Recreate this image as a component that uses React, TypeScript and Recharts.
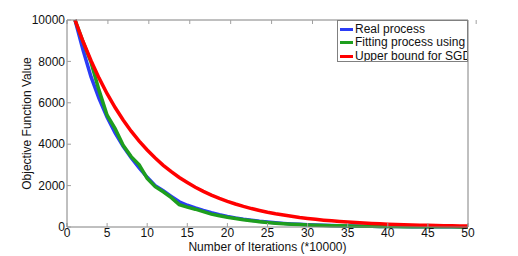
import React from 'react';
import {
  LineChart,
  Line,
  XAxis,
  YAxis,
} from 'recharts';

const iterations = [
  1, 2, 3, 4, 5, 6, 7, 8, 9, 10, 11, 12, 13, 14, 15, 16, 17, 18, 19, 20, 21, 22, 23, 24, 25,
  26, 27, 28, 29, 30, 31, 32, 33, 34, 35, 36, 37, 38, 39, 40, 41, 42, 43, 44, 45, 46, 47, 48, 49, 50,
];

const realProcess = [
  10000, 8550, 7250, 6200, 5300, 4550, 3900, 3350, 2850, 2400, 2000, 1750, 1480, 1220, 1050,
  920, 800, 690, 590, 510, 440, 380, 330, 280, 240, 205, 175, 150, 128, 110, 95, 82, 70, 60, 52,
  45, 39, 34, 29, 25, 22, 19, 16, 14, 12, 10, 9, 8, 7, 6,
];

const fittingProcess = [
  10000, 8950, 7950, 6600, 5400, 4750, 3950, 3400, 3000, 2350, 1950, 1700, 1420, 1080, 960,
  860, 740, 620, 540, 470, 410, 350, 300, 255, 215, 185, 160, 135, 115, 100, 85, 74, 64, 55, 48,
  41, 36, 31, 27, 23, 20, 17, 15, 13, 11, 9, 8, 7, 6, 5,
];

const upperBound = [
  10000, 8960, 8030, 7190, 6440, 5770, 5170, 4630, 4150, 3720, 3330, 2980, 2670, 2390, 2150,
  1920, 1720, 1540, 1380, 1240, 1110, 995, 890, 800, 715, 640, 575, 515, 460, 415, 370, 330, 298,
  265, 238, 213, 191, 171, 153, 137, 123, 110, 99, 88, 79, 71, 63, 57, 51, 46,
];

const xTicks = [0, 5, 10, 15, 20, 25, 30, 35, 40, 45, 50];
const yTicks = [0, 2000, 4000, 6000, 8000, 10000];

const seriesKeys = ['real', 'fit', 'bound'];
const seriesNames = ['Real process', 'Fitting process using r', 'Upper bound for SGD'];
const seriesColors = ['#2b3cf6', '#1e9e1e', '#ff0000'];

const data = iterations.map((it, i) => ({
  it,
  real: realProcess[i],
  fit: fittingProcess[i],
  bound: upperBound[i],
}));

if (typeof document !== 'undefined') {
  document.body.style.margin = '0';
}

const FONT = '"Liberation Sans", Arial, Helvetica, sans-serif';
const AXIS = '#808080';
const TICK = '#a0a0a0';

// matlab-style legend box over the top right corner; the long name is cut by the box like in the source
function LegendBox() {
  return (
    <div
      style={{
        position: 'absolute',
        left: 337,
        top: 20,
        width: 131,
        height: 42,
        border: `1px solid ${AXIS}`,
        background: '#fff',
        overflow: 'hidden',
        whiteSpace: 'nowrap',
        fontFamily: FONT,
        fontSize: 12,
        lineHeight: '13.3px',
        color: '#111',
        padding: '2px 0 0 2px',
        boxSizing: 'border-box',
      }}
    >
      {seriesNames.map((name, i) => (
        <div key={name} style={{ display: 'flex', alignItems: 'center', height: 13.3 }}>
          <span
            style={{
              display: 'inline-block',
              flex: 'none',
              width: 13,
              height: 3,
              background: seriesColors[i],
              marginRight: 2,
            }}
          />
          <span>{name}</span>
        </div>
      ))}
    </div>
  );
}

export default function App() {
  return (
    <div style={{ position: 'relative', width: 518, height: 256, background: '#fff' }}>
      <LineChart
        width={518}
        height={256}
        data={data}
        margin={{ top: 19, right: 49, bottom: 0, left: 0 }}
        style={{ fontFamily: FONT }}
      >
        <XAxis
          xAxisId="x"
          dataKey="it"
          type="number"
          domain={[0, 50]}
          ticks={xTicks}
          height={29}
          stroke={AXIS}
          tickSize={-4}
          tickMargin={5}
          tickLine={{ stroke: TICK }}
          tick={{ fill: '#111', fontSize: 12 }}
          label={{
            value: 'Number of Iterations (*10000)',
            position: 'insideBottom',
            offset: 5,
            fill: '#111',
            fontSize: 12,
          }}
        />
        <XAxis
          xAxisId="xt"
          orientation="top"
          type="number"
          domain={[0, 50]}
          ticks={xTicks}
          height={1}
          stroke={AXIS}
          tickSize={-4}
          tickLine={{ stroke: TICK }}
          tickFormatter={() => ''}
        />
        <YAxis
          yAxisId="y"
          type="number"
          domain={[0, 10000]}
          ticks={yTicks}
          width={67}
          stroke={AXIS}
          tickSize={-4}
          tickMargin={6}
          tickLine={{ stroke: TICK }}
          tick={{ fill: '#111', fontSize: 12 }}
          label={{
            content: ({ viewBox }: any) => {
              const cx = viewBox.x + 27;
              const cy = viewBox.y + viewBox.height / 2;
              return (
                <text
                  x={cx}
                  y={cy}
                  transform={`rotate(-90, ${cx}, ${cy})`}
                  textAnchor="middle"
                  dominantBaseline="central"
                  fill="#111"
                  fontSize={12}
                  fontFamily={FONT}
                >
                  Objective Function Value
                </text>
              );
            },
          }}
        />
        <YAxis
          yAxisId="yr"
          orientation="right"
          type="number"
          domain={[0, 10000]}
          ticks={yTicks}
          width={1}
          stroke={AXIS}
          tickSize={-4}
          tickLine={{ stroke: TICK }}
          tickFormatter={() => ''}
        />
        {seriesKeys.map((key, i) => (
          <Line
            key={key}
            xAxisId="x"
            yAxisId="y"
            dataKey={key}
            name={seriesNames[i]}
            stroke={seriesColors[i]}
            strokeWidth={3.5}
            dot={false}
            isAnimationActive={false}
          />
        ))}
      </LineChart>
      <LegendBox />
    </div>
  );
}
